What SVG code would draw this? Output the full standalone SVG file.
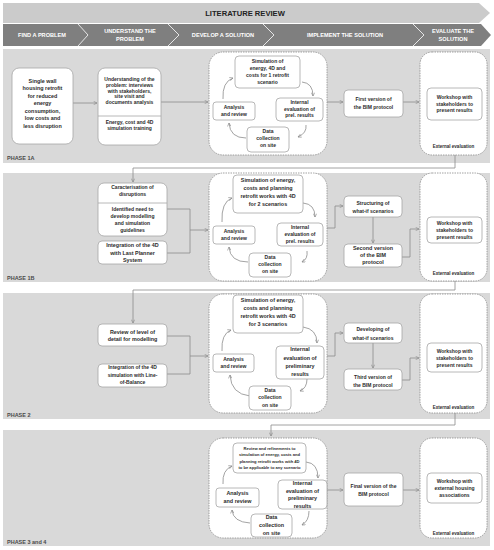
<svg xmlns="http://www.w3.org/2000/svg" width="494" height="550" viewBox="0 0 494 550">
<defs>
<marker id="ah" viewBox="0 0 6 6" refX="5.5" refY="3" markerWidth="4" markerHeight="4" markerUnits="userSpaceOnUse" orient="auto">
<path d="M0.5,0.5 L5.5,3 L0.5,5.5" fill="none" stroke="#8c8c8c" stroke-width="1"/>
</marker>
</defs>
<style>
.panel{fill:#d9d9d9}
.box{fill:#fff;stroke:#a6a6a6;stroke-width:0.8}
.cont{fill:#fff;stroke:#8c8c8c;stroke-width:0.8;stroke-dasharray:1.5 1}
.t{font-family:"Liberation Sans",Arial,sans-serif;font-weight:bold;font-size:5px;fill:#2b2b2b;text-anchor:middle}
.s{font-size:4.1px}
.big{font-size:5.4px}
.ev{font-size:4.5px}
.ph{font-family:"Liberation Sans",Arial,sans-serif;font-weight:bold;font-size:5.5px;fill:#4a4a4a}
.hd{font-family:"Liberation Sans",Arial,sans-serif;font-weight:bold;fill:#fff;font-size:5.6px;text-anchor:middle}
.c{fill:none;stroke:#8c8c8c;stroke-width:0.8;marker-end:url(#ah)}
.l{fill:none;stroke:#8c8c8c;stroke-width:0.8}
.sep{fill:none;stroke:#e6e6e6;stroke-width:1}
</style>
<rect width="494" height="550" fill="#fff"/>
<g id="header">
<polygon points="3,3 479,3 490,13 479,23 3,23" fill="#cbcbcb"/>
<text x="245" y="16" style="font-family:'Liberation Sans',Arial,sans-serif;font-weight:bold;font-size:7.6px;fill:#222;text-anchor:middle">LITERATURE REVIEW</text>
<polygon points="3,24 481,24 491,35 481,46 3,46" fill="#7f7f7f"/>
<polyline class="sep" points="78,24 88,35 78,46"/>
<polyline class="sep" points="168,24 179,35 168,46"/>
<polyline class="sep" points="263,24 274,35 263,46"/>
<polyline class="sep" points="413,24 424,35 413,46"/>
<text class="hd" x="42" y="37">FIND A PROBLEM</text>
<text class="hd" x="130" y="33">UNDERSTAND THE</text>
<text class="hd" x="130" y="41">PROBLEM</text>
<text class="hd" x="223" y="37">DEVELOP A SOLUTION</text>
<text class="hd" x="345" y="37">IMPLEMENT THE SOLUTION</text>
<text class="hd" x="453" y="33">EVALUATE THE</text>
<text class="hd" x="453" y="41">SOLUTION</text>
</g>
<g id="panels">
<rect class="panel" x="3" y="49" width="487" height="114"/>
<rect class="panel" x="3" y="173" width="487" height="109"/>
<rect class="panel" x="3" y="293" width="487" height="126"/>
<rect class="panel" x="3" y="430" width="487" height="116"/>
<text class="ph" x="7" y="160">PHASE 1A</text>
<text class="ph" x="7" y="280">PHASE 1B</text>
<text class="ph" x="7" y="417">PHASE 2</text>
<text class="ph" x="7" y="544">PHASE 3 and 4</text>
</g>
<g id="containers">
<rect class="cont" x="209" y="52" width="118" height="103" rx="14"/>
<rect class="cont" x="420" y="52" width="67" height="103" rx="12"/>
<rect class="cont" x="209" y="173" width="118" height="108" rx="14"/>
<rect class="cont" x="420" y="173" width="67" height="108" rx="12"/>
<rect class="cont" x="209" y="294" width="118" height="119" rx="14"/>
<rect class="cont" x="420" y="294" width="67" height="119" rx="12"/>
<rect class="cont" x="209" y="438" width="118" height="100" rx="14"/>
<rect class="cont" x="420" y="438" width="67" height="100" rx="12"/>
<text class="t ev" x="453.5" y="147.5">External evaluation</text>
<text class="t ev" x="453.5" y="274.5">External evaluation</text>
<text class="t ev" x="453.5" y="408.5">External evaluation</text>
<text class="t ev" x="453.5" y="535">External evaluation</text>
</g>
<g id="connectors">
<path class="c" d="M73,103 H97"/>
<path class="c" d="M161,102 H208"/>
<path class="c" d="M223,99 Q222,82 233,78"/>
<path class="c" d="M302,82 Q313,83 313,96"/>
<path class="c" d="M306,125 Q307,133 298,137"/>
<path class="c" d="M246,138 Q230,138 229,123"/>
<path class="c" d="M327,102 H343"/>
<path class="c" d="M403,102 H419"/>
<path class="c" d="M455,155 V168 H133 V182"/>
<path class="l" d="M167,209 H190 V253 H167"/>
<path class="c" d="M190,230 H208"/>
<path class="c" d="M222,222 Q221,202 232,198"/>
<path class="c" d="M303,203 Q315,204 315,217"/>
<path class="c" d="M307,251 Q308,259 302,262"/>
<path class="c" d="M248,262 Q230,262 229,247"/>
<path class="c" d="M327,228 H335 V206 H343"/>
<path class="c" d="M373,217 V243"/>
<path class="c" d="M402,257 H410 V229 H419"/>
<path class="c" d="M455,281 V290 H133 V323"/>
<path class="l" d="M167,336 H190 V374 H167"/>
<path class="c" d="M190,356 H208"/>
<path class="c" d="M222,351 Q221,334 231,330"/>
<path class="c" d="M303,327 Q317,329 317,343"/>
<path class="c" d="M307,379 Q307,388 300,391"/>
<path class="c" d="M250,396 Q231,394 230,375"/>
<path class="c" d="M327,356 H335 V333 H343"/>
<path class="c" d="M373,343 V368"/>
<path class="c" d="M402,380 H410 V358 H419"/>
<path class="c" d="M455,413 V425 H271 V436"/>
<path class="c" d="M223,484 Q222,470 232,466"/>
<path class="c" d="M306,462 Q318,463 318,478"/>
<path class="c" d="M309,511 Q309,521 302,525"/>
<path class="c" d="M250,523 Q233,522 232,510"/>
<path class="c" d="M327,490 H343"/>
<path class="c" d="M403,490 H419"/>
</g>
<g id="p1a-problem"><rect class="box" x="12" y="68" width="61" height="76" rx="7"/>
<text class="t big"><tspan x="42.5" y="82.8">Single wall</tspan><tspan x="42.5" y="90.3">housing retrofit</tspan><tspan x="42.5" y="97.8">for reduced</tspan><tspan x="42.5" y="105.3">energy</tspan><tspan x="42.5" y="112.8">consumption,</tspan><tspan x="42.5" y="120.3">low costs and</tspan><tspan x="42.5" y="127.8">less disruption</tspan></text></g>
<g id="p1a-understand"><rect class="box" x="98" y="68" width="63" height="77" rx="7"/><line x1="98" y1="116" x2="161" y2="116" stroke="#a6a6a6" stroke-width="0.8"/>
<text class="t"><tspan x="129.5" y="80.7">Understanding of the</tspan><tspan x="129.5" y="86.6">problem: interviews</tspan><tspan x="129.5" y="92.5">with stakeholders,</tspan><tspan x="129.5" y="98.4">site visit and</tspan><tspan x="129.5" y="104.3">documents analysis</tspan><tspan x="129.5" y="123.7">Energy, cost and 4D</tspan><tspan x="129.5" y="130">simulation training</tspan></text></g>
<g id="p1a-sim"><rect class="box" x="235" y="56" width="65" height="32" rx="4"/>
<text class="t"><tspan x="267.5" y="62.7">Simulation of</tspan><tspan x="267.5" y="69.7">energy, 4D and</tspan><tspan x="267.5" y="76.7">costs for 1 retrofit</tspan><tspan x="267.5" y="83.7">scenario</tspan></text></g>
<g id="p1a-internal"><rect class="box" x="276" y="98" width="47" height="23" rx="4"/>
<text class="t"><tspan x="299.5" y="104">Internal</tspan><tspan x="299.5" y="110.5">evaluation of</tspan><tspan x="299.5" y="117">prel. results</tspan></text></g>
<g id="p1a-data"><rect class="box" x="247" y="127" width="42" height="25" rx="4"/>
<text class="t"><tspan x="268" y="133">Data</tspan><tspan x="268" y="140">collection</tspan><tspan x="268" y="147">on site</tspan></text></g>
<g id="p1a-analysis"><rect class="box" x="213" y="102" width="42" height="18" rx="3"/>
<text class="t"><tspan x="234" y="108.7">Analysis</tspan><tspan x="234" y="115.5">and review</tspan></text></g>
<g id="p1a-first"><rect class="box" x="344" y="90" width="59" height="27" rx="4"/>
<text class="t"><tspan x="373.5" y="101">First version of</tspan><tspan x="373.5" y="108.5">the BIM protocol</tspan></text></g>
<g id="p1a-workshop"><rect class="box" x="427" y="88" width="55" height="32" rx="4"/>
<text class="t"><tspan x="454.5" y="99">Workshop with</tspan><tspan x="454.5" y="105.5">stakeholders to</tspan><tspan x="454.5" y="112">present results</tspan></text></g>
<g id="p1b-caract"><rect class="box" x="98" y="183" width="69" height="53" rx="6"/><line x1="98" y1="203" x2="167" y2="203" stroke="#a6a6a6" stroke-width="0.8"/>
<text class="t"><tspan x="132.5" y="188.7">Caracterisation of</tspan><tspan x="132.5" y="195.7">disruptions</tspan><tspan x="132.5" y="210.7">Identified need to</tspan><tspan x="132.5" y="217.9">develop modelling</tspan><tspan x="132.5" y="225.1">and simulation</tspan><tspan x="132.5" y="232.3">guidelines</tspan></text></g>
<g id="p1b-lps"><rect class="box" x="98" y="241" width="69" height="23" rx="4"/>
<text class="t big"><tspan x="132.5" y="247">Integration of the 4D</tspan><tspan x="132.5" y="254.5">with Last Planner</tspan><tspan x="132.5" y="262">System</tspan></text></g>
<g id="p1b-sim"><rect class="box" x="233" y="175" width="70" height="38" rx="4"/>
<text class="t big"><tspan x="268" y="182">Simulation of energy,</tspan><tspan x="268" y="190">costs and planning</tspan><tspan x="268" y="198">retrofit works with 4D</tspan><tspan x="268" y="206">for 2 scenarios</tspan></text></g>
<g id="p1b-internal"><rect class="box" x="277" y="223" width="46" height="23" rx="4"/>
<text class="t"><tspan x="300" y="228.5">Internal</tspan><tspan x="300" y="235.5">evaluation of</tspan><tspan x="300" y="242.5">prel. results</tspan></text></g>
<g id="p1b-data"><rect class="box" x="249" y="253" width="42" height="24" rx="4"/>
<text class="t"><tspan x="270" y="259">Data</tspan><tspan x="270" y="266">collection</tspan><tspan x="270" y="273">on site</tspan></text></g>
<g id="p1b-analysis"><rect class="box" x="213" y="226" width="42" height="18" rx="3"/>
<text class="t"><tspan x="234" y="233">Analysis</tspan><tspan x="234" y="240">and review</tspan></text></g>
<g id="p1b-struct"><rect class="box" x="344" y="196" width="58" height="21" rx="4"/>
<text class="t"><tspan x="373" y="204.5">Structuring of</tspan><tspan x="373" y="212.5">what-if scenarios</tspan></text></g>
<g id="p1b-second"><rect class="box" x="344" y="244" width="58" height="23" rx="4"/>
<text class="t big"><tspan x="373" y="250">Second version</tspan><tspan x="373" y="257">of the BIM</tspan><tspan x="373" y="264">protocol</tspan></text></g>
<g id="p1b-workshop"><rect class="box" x="427" y="217" width="55" height="26" rx="4"/>
<text class="t"><tspan x="454.5" y="224.5">Workshop with</tspan><tspan x="454.5" y="231.5">stakeholders to</tspan><tspan x="454.5" y="238.5">present results</tspan></text></g>
<g id="p2-review"><rect class="box" x="98" y="324" width="69" height="22" rx="4"/>
<text class="t big"><tspan x="132.5" y="333.5">Review of level of</tspan><tspan x="132.5" y="341">detail for modelling</tspan></text></g>
<g id="p2-lob"><rect class="box" x="98" y="364" width="69" height="23" rx="4"/>
<text class="t"><tspan x="132.5" y="369">Integration of the 4D</tspan><tspan x="132.5" y="376.5">simulation with Line-</tspan><tspan x="132.5" y="384">of-Balance</tspan></text></g>
<g id="p2-sim"><rect class="box" x="233" y="295" width="70" height="38" rx="4"/>
<text class="t big"><tspan x="268" y="301.5">Simulation of energy,</tspan><tspan x="268" y="309.5">costs and planning</tspan><tspan x="268" y="317.5">retrofit works with 4D</tspan><tspan x="268" y="325.5">for 3 scenarios</tspan></text></g>
<g id="p2-internal"><rect class="box" x="276" y="346" width="48" height="33" rx="4"/>
<text class="t big"><tspan x="300" y="351">Internal</tspan><tspan x="300" y="359.5">evaluation of</tspan><tspan x="300" y="367.5">preliminary</tspan><tspan x="300" y="375.5">results</tspan></text></g>
<g id="p2-data"><rect class="box" x="249" y="386" width="42" height="24" rx="4"/>
<text class="t"><tspan x="270" y="392">Data</tspan><tspan x="270" y="399">collection</tspan><tspan x="270" y="406.5">on site</tspan></text></g>
<g id="p2-analysis"><rect class="box" x="213" y="354" width="41" height="18" rx="3"/>
<text class="t"><tspan x="233.5" y="360.7">Analysis</tspan><tspan x="233.5" y="368">and review</tspan></text></g>
<g id="p2-developing"><rect class="box" x="344" y="323" width="58" height="20" rx="4"/>
<text class="t"><tspan x="373" y="330.7">Developing of</tspan><tspan x="373" y="339.5">what-if scenarios</tspan></text></g>
<g id="p2-third"><rect class="box" x="344" y="369" width="58" height="21" rx="4"/>
<text class="t"><tspan x="373" y="378.5">Third version of</tspan><tspan x="373" y="386.5">the BIM protocol</tspan></text></g>
<g id="p2-workshop"><rect class="box" x="427" y="343" width="55" height="29" rx="4"/>
<text class="t"><tspan x="454.5" y="352.5">Workshop with</tspan><tspan x="454.5" y="359.5">stakeholders to</tspan><tspan x="454.5" y="366.5">present results</tspan></text></g>
<g id="p3-review"><rect class="box" x="233" y="443" width="73" height="30" rx="4"/>
<text class="t s"><tspan x="269.5" y="449.5">Review and refinements to</tspan><tspan x="269.5" y="456">simulation of energy, costs and</tspan><tspan x="269.5" y="462.5">planning retrofit works with 4D</tspan><tspan x="269.5" y="469">to be applicable to any scenario</tspan></text></g>
<g id="p3-internal"><rect class="box" x="278" y="480" width="49" height="29" rx="4"/>
<text class="t big"><tspan x="302.5" y="485">Internal</tspan><tspan x="302.5" y="492.5">evaluation of</tspan><tspan x="302.5" y="500">preliminary</tspan><tspan x="302.5" y="507.5">results</tspan></text></g>
<g id="p3-data"><rect class="box" x="251" y="514" width="41" height="23" rx="4"/>
<text class="t big"><tspan x="271.5" y="519">Data</tspan><tspan x="271.5" y="527">collection</tspan><tspan x="271.5" y="535">on site</tspan></text></g>
<g id="p3-analysis"><rect class="box" x="216" y="488" width="43" height="19" rx="3"/>
<text class="t big"><tspan x="237.5" y="494.5">Analysis</tspan><tspan x="237.5" y="502.5">and review</tspan></text></g>
<g id="p3-final"><rect class="box" x="344" y="473" width="59" height="33" rx="4"/>
<text class="t"><tspan x="373.5" y="488">Final version of the</tspan><tspan x="373.5" y="495.5">BIM protocol</tspan></text></g>
<g id="p3-workshop"><rect class="box" x="427" y="473" width="55" height="30" rx="4"/>
<text class="t"><tspan x="454.5" y="482.5">Workshop with</tspan><tspan x="454.5" y="489.5">external housing</tspan><tspan x="454.5" y="496.5">associations</tspan></text></g>
</svg>
